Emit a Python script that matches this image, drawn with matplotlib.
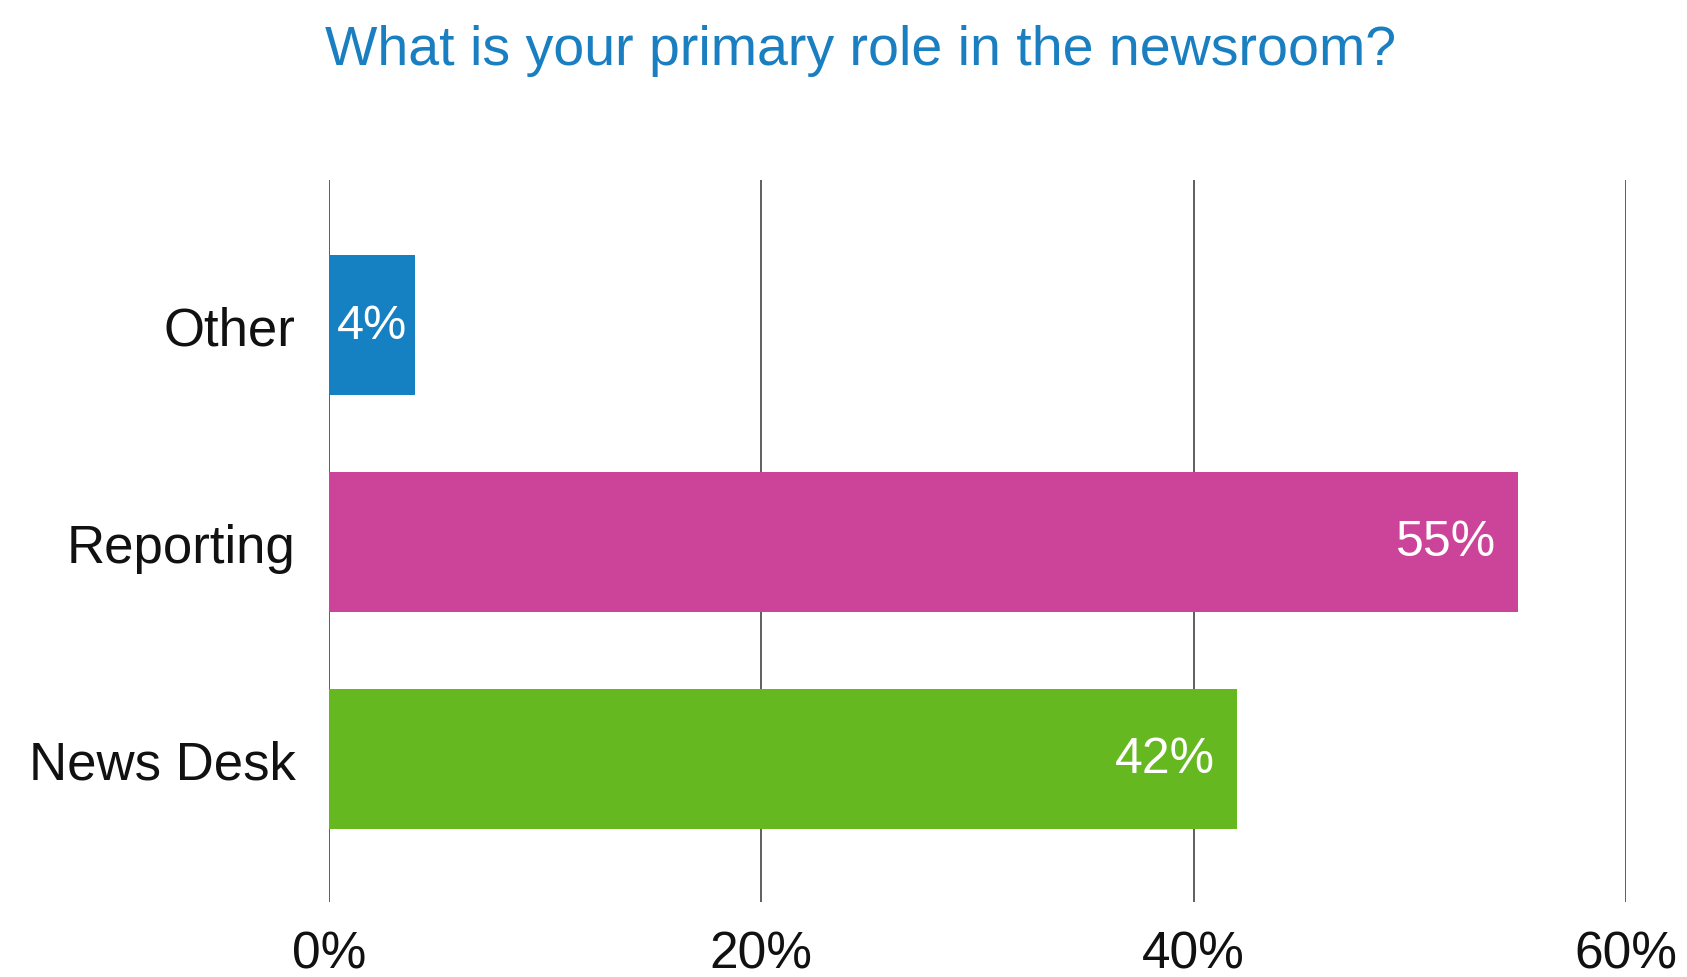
import matplotlib

matplotlib.use("Agg")
import matplotlib.pyplot as plt

plt.rcParams["font.family"] = ["Liberation Sans", "DejaVu Sans"]

# survey answers, bottom to top
roles = ["News Desk", "Reporting", "Other"]
shares = [42, 55, 4]
bar_colors = ["#66b821", "#cc4499", "#1580c2"]
x_ticks = [0, 20, 40, 60]
x_tick_labels = ["0%", "20%", "40%", "60%"]

fig = plt.figure(figsize=(16.87, 9.78), dpi=100)
ax = fig.add_axes([0.195, 0.0767, 0.7688, 0.7383])

ypos = list(range(len(roles)))
ax.barh(ypos, shares, height=0.645, color=bar_colors, zorder=2)

for y, v in zip(ypos, shares):
    if v < 10:
        # narrow bar: centre the label inside it
        ax.text(v / 2, y, f"{v}%", ha="center", va="center",
                color="white", fontsize=35, zorder=3)
    else:
        ax.annotate(f"{v}%", xy=(v, y), xytext=(-16, 0), textcoords="offset points",
                    ha="right", va="center", color="white", fontsize=36, zorder=3)

ax.set_xlim(0, 60)
ax.set_ylim(-0.66, 2.67)
ax.set_xticks(x_ticks)
ax.set_xticklabels(x_tick_labels, fontsize=37)
ax.set_yticks(ypos)
ax.set_yticklabels(roles, fontsize=38)
ax.tick_params(axis="both", length=0, colors="#111111")
ax.tick_params(axis="x", pad=20)
ax.tick_params(axis="y", pad=24)
ax.xaxis.grid(True, color="#444444", linewidth=1.2, zorder=1)
for s in ax.spines.values():
    s.set_visible(False)

fig.text(0.51, 0.948, "What is your primary role in the newsroom?",
         ha="center", va="center", color="#1a7fc0", fontsize=40)

fig.savefig("out.png", dpi=100, facecolor="white")
